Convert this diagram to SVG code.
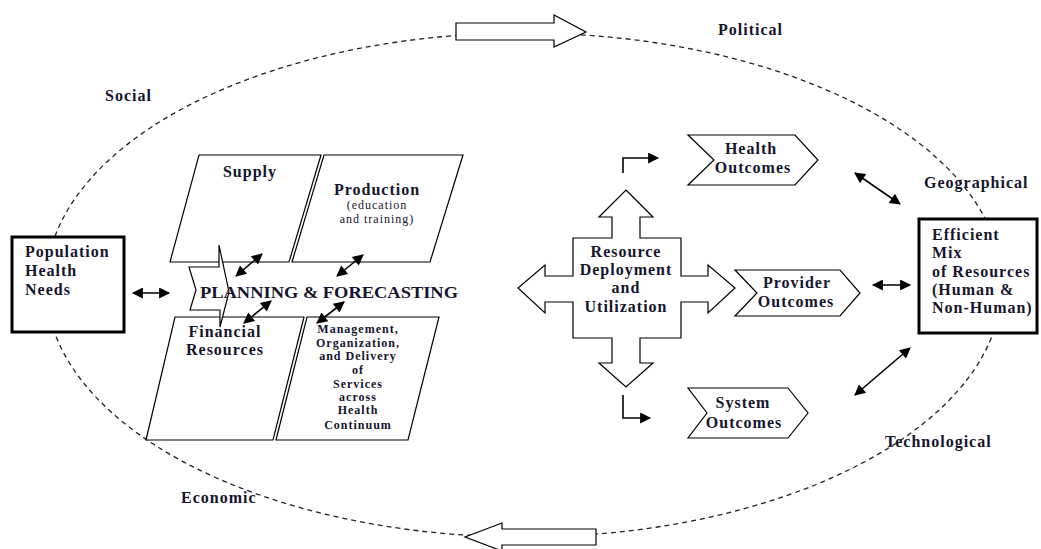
<svg xmlns="http://www.w3.org/2000/svg" width="1041" height="549" viewBox="0 0 1041 549">
<style>
.t{font-family:"Liberation Serif","Times New Roman",serif;font-weight:600;fill:#15152e;letter-spacing:1px}
.n{font-weight:400}
.sh{fill:#fff;stroke:#000;stroke-width:1.2}
.bx{fill:#fff;stroke:#000;stroke-width:3}
.ln{fill:none;stroke:#000;stroke-width:1.6}
</style>
<defs>
<marker id="ah" viewBox="0 0 10 10" refX="9" refY="5" markerWidth="11" markerHeight="9" markerUnits="userSpaceOnUse" orient="auto-start-reverse">
<path d="M0,0 L10,5 L0,10 z" fill="#000"/>
</marker>
<marker id="ahL" viewBox="0 0 10 10" refX="9" refY="5" markerWidth="15" markerHeight="11" markerUnits="userSpaceOnUse" orient="auto-start-reverse">
<path d="M0,0 L10,5 L0,10 z" fill="#000"/>
</marker>
</defs>
<rect width="1041" height="549" fill="#fff"/>
<g id="context">
<ellipse cx="524" cy="285" rx="478" ry="252" fill="none" stroke="#222" stroke-width="1.3" stroke-dasharray="5,4"/>
<polygon class="sh" points="456,23 554,23 554,15 586,32 554,47 554,40 456,40" stroke-width="1"/>
<polygon class="sh" points="596,529 502,529 502,523 465,537 502,551 502,545 596,545" stroke-width="1"/>
<text class="t" x="718" y="35" font-size="16">Political</text>
<text class="t" x="105" y="101" font-size="16">Social</text>
<text class="t" x="924" y="188" font-size="16">Geographical</text>
<text class="t" x="885" y="447" font-size="16">Technological</text>
<text class="t" x="181" y="503" font-size="16">Economic</text>
</g>
<g id="population">
<rect class="bx" x="12" y="237" width="112" height="95"/>
<text class="t" x="25" y="257" font-size="16">Population</text>
<text class="t" x="25" y="276" font-size="16">Health</text>
<text class="t" x="25" y="295" font-size="16">Needs</text>
</g>
<g id="supply">
<polygon class="sh" points="199,155 321,155 289,262 170,262"/>
<text class="t" x="250" y="177" font-size="16" text-anchor="middle">Supply</text>
</g>
<g id="production">
<polygon class="sh" points="324,155 463,155 430,262 292,262"/>
<text class="t" x="377" y="195" font-size="16" text-anchor="middle">Production</text>
<text class="t n" x="377" y="209" font-size="12" text-anchor="middle">(education</text>
<text class="t n" x="377" y="223" font-size="12" text-anchor="middle">and training)</text>
</g>
<g id="financial">
<polygon class="sh" points="175,317 304,317 273,440 146,440"/>
<text class="t" x="225" y="337" font-size="16" text-anchor="middle">Financial</text>
<text class="t" x="225" y="355" font-size="16" text-anchor="middle">Resources</text>
</g>
<g id="management">
<polygon class="sh" points="307,317 439,317 408,440 276,440"/>
<g font-size="12" text-anchor="middle">
<text class="t" x="358" y="333">Management,</text>
<text class="t" x="358" y="347">Organization,</text>
<text class="t" x="358" y="360">and Delivery</text>
<text class="t" x="358" y="374">of</text>
<text class="t" x="358" y="388">Services</text>
<text class="t" x="358" y="401">across</text>
<text class="t" x="358" y="414">Health</text>
<text class="t" x="358" y="429">Continuum</text>
</g>
</g>
<g id="planning">
<polygon class="sh" points="189,267 219,267 219,245 229,292 220,327 220,310 190,310 196,290"/>
<text class="t" x="200" y="298" font-size="16" textLength="258" lengthAdjust="spacingAndGlyphs" style="letter-spacing:0">PLANNING &amp; FORECASTING</text>
</g>
<g id="deployment">
<polygon class="sh" points="626,190 653,217 640,217 640,238 681,238 681,276 708,276 708,265 735,288 708,313 708,302 681,302 681,338 640,338 640,363 653,363 626,387 599,363 612,363 612,338 573,338 573,302 545,302 545,313 518,288 545,265 545,276 573,276 573,238 612,238 612,217 599,217"/>
<g font-size="16" text-anchor="middle">
<text class="t" x="626" y="257">Resource</text>
<text class="t" x="626" y="275">Deployment</text>
<text class="t" x="626" y="293">and</text>
<text class="t" x="626" y="312">Utilization</text>
</g>
</g>
<g id="health-outcomes">
<polygon class="sh" points="688,135 795,135 818,160 795,185 688,185 714,160"/>
<text class="t" x="751" y="154" font-size="16" text-anchor="middle">Health</text>
<text class="t" x="753" y="173" font-size="16" text-anchor="middle">Outcomes</text>
</g>
<g id="provider-outcomes">
<polygon class="sh" points="735,270 840,270 860,293 840,316 735,316 757,293"/>
<text class="t" x="797" y="288" font-size="16" text-anchor="middle">Provider</text>
<text class="t" x="796" y="307" font-size="16" text-anchor="middle">Outcomes</text>
</g>
<g id="system-outcomes">
<polygon class="sh" points="688,388 788,388 808,413 788,438 688,438 707,413"/>
<text class="t" x="743" y="408" font-size="16" text-anchor="middle">System</text>
<text class="t" x="744" y="428" font-size="16" text-anchor="middle">Outcomes</text>
</g>
<g id="efficient-mix">
<rect class="bx" x="919" y="219" width="118" height="114"/>
<g font-size="16">
<text class="t" x="932" y="240">Efficient</text>
<text class="t" x="932" y="258">Mix</text>
<text class="t" x="932" y="277">of Resources</text>
<text class="t" x="932" y="295">(Human &amp;</text>
<text class="t" x="932" y="313">Non-Human)</text>
</g>
</g>
<g id="connectors">
<line class="ln" x1="133" y1="293" x2="169" y2="293" marker-start="url(#ahL)" marker-end="url(#ahL)"/>
<line class="ln" x1="236" y1="276" x2="262" y2="254" marker-start="url(#ahL)" marker-end="url(#ahL)"/>
<line class="ln" x1="337" y1="276" x2="363" y2="255" marker-start="url(#ahL)" marker-end="url(#ahL)"/>
<line class="ln" x1="244" y1="323" x2="271" y2="301" marker-start="url(#ahL)" marker-end="url(#ahL)"/>
<line class="ln" x1="317" y1="323" x2="344" y2="302" marker-start="url(#ahL)" marker-end="url(#ahL)"/>
<polyline class="ln" points="623,173 623,158 658,158" stroke-width="1.3" marker-end="url(#ahL)"/>
<polyline class="ln" points="623,395 623,418 650,418" stroke-width="1.3" marker-end="url(#ahL)"/>
<line class="ln" x1="855" y1="173" x2="900" y2="204" marker-start="url(#ahL)" marker-end="url(#ahL)"/>
<line class="ln" x1="873" y1="285" x2="910" y2="285" marker-start="url(#ahL)" marker-end="url(#ahL)"/>
<line class="ln" x1="910" y1="348" x2="855" y2="395" marker-start="url(#ahL)" marker-end="url(#ahL)"/>
</g>
</svg>
